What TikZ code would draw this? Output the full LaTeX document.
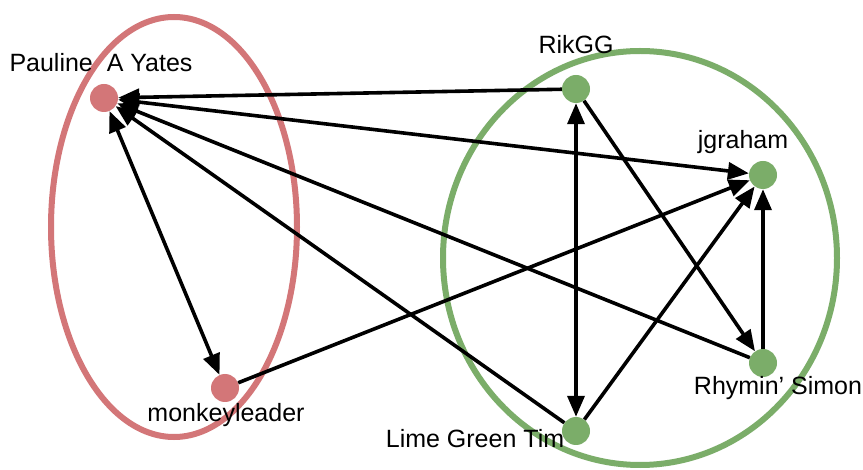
\documentclass[tikz,border=0pt]{standalone}
\usepackage{fontspec}
\setmainfont{Liberation Sans}
\usetikzlibrary{arrows.meta}
\definecolor{groupred}{RGB}{211,118,120}
\definecolor{groupgreen}{RGB}{123,173,105}
\tikzset{
  person/.style={circle, inner sep=0pt, minimum size=28pt},
  redperson/.style={person, fill=groupred},
  greenperson/.style={person, fill=groupgreen},
  personname/.style={anchor=base, inner sep=0pt, font=\fontsize{25}{28}\selectfont},
  ring/.style={line width=6pt},
  tie/.style={line width=3.6pt, black},
  tip/.tip={Triangle[length=21pt,width=17pt]},
  oneway/.style={tie, -tip},
  twoway/.style={tie, tip-tip},
}
\begin{document}
\begin{tikzpicture}[x=1pt,y=-1pt]
\useasboundingbox (0,0) rectangle (863,470);
\fill[white] (0,0) rectangle (863,470);

% groups
\draw[ring, groupred] (174,227) ellipse [x radius=123, y radius=210];
\draw[ring, groupgreen] (640,258) ellipse [x radius=197, y radius=207];

% people
\node[redperson] (pay) at (104,98) {};
\node[redperson] (mon) at (225,388) {};
\node[greenperson] (rik) at (576,89) {};
\node[greenperson] (jgr) at (763,175) {};
\node[greenperson] (rhy) at (763,363) {};
\node[greenperson] (lgt) at (576,431) {};

% links
\draw[oneway] (rik) -- (pay);
\draw[twoway] (pay) -- (jgr);
\draw[twoway] (pay) -- (mon);
\draw[oneway] (mon) -- (jgr);
\draw[twoway] (rik) -- (lgt);
\draw[oneway] (rik) -- (rhy);
\draw[oneway] (rhy) -- (pay);
\draw[oneway] (lgt) -- (pay);
\draw[oneway] (lgt) -- (jgr);
\draw[oneway] (rhy) -- (jgr);

% names
\node[personname] (payname) at (101,72) {Pauline\ \ A Yates};
\node[personname] (monname) at (226,422) {monkeyleader};
\node[personname] (rikname) at (576,54) {RikGG};
\node[personname] (jgrname) at (743,149) {jgraham};
\node[personname] (rhyname) at (778,395) {Rhymin’ Simon};
\node[personname] (lgtname) at (475,448) {Lime Green Tim};
\end{tikzpicture}
\end{document}
